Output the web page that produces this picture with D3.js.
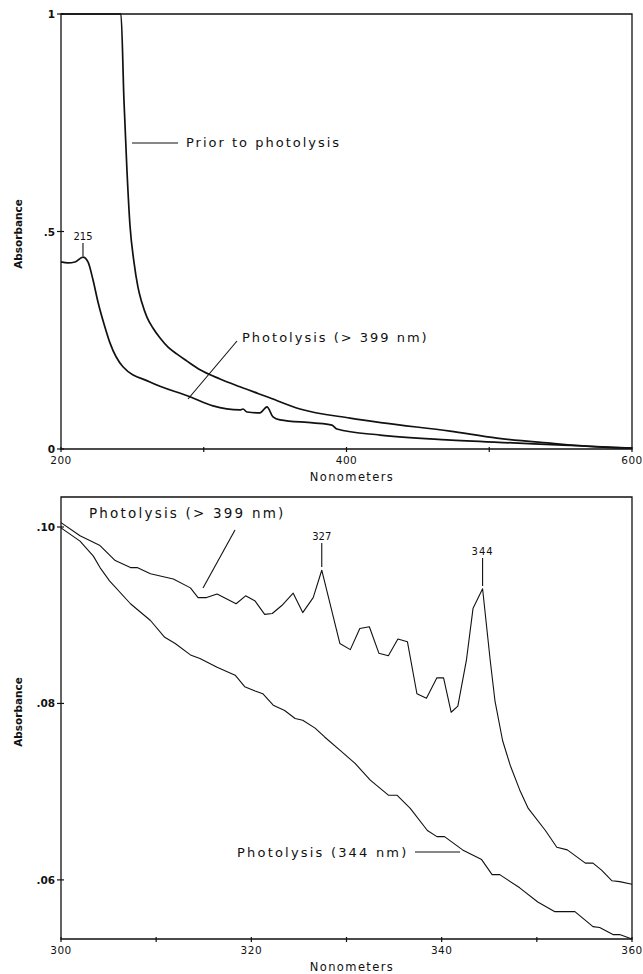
<!DOCTYPE html>
<html>
<head>
<meta charset="utf-8">
<script src="https://cdn.jsdelivr.net/npm/d3@7"></script>
<style>
  body { margin: 0; background: #fff; }
  text { font-family: "DejaVu Sans", sans-serif; fill: #111; }
</style>
</head>
<body>
<div id="chart"></div>
<script>
// TOP PANEL DATA (200-600 nm)
let priorTop = [
  [200, 1.0], [242.0, 1.0], [244.1, 0.802], [246.2, 0.641], [248.3, 0.515], [251.1, 0.430],
  [253.9, 0.372], [256.7, 0.336], [260.2, 0.303], [264.4, 0.278], [269.4, 0.255],
  [275.0, 0.234], [281.3, 0.218], [288.3, 0.202], [297.4, 0.182], [311.4, 0.161],
  [325.4, 0.143], [344.3, 0.120], [367.4, 0.092], [402.5, 0.071], [425.6, 0.060],
  [472.5, 0.041], [505.4, 0.025], [540.5, 0.014], [575.5, 0.005], [600, 0.002]
];
let photoTop = [
  [200, 0.430], [204.9, 0.428], [209.8, 0.430], [215.4, 0.441], [218.9, 0.430],
  [222.4, 0.389], [225.9, 0.338], [230.8, 0.280], [234.3, 0.244], [243.4, 0.189],
  [262.3, 0.154], [290.4, 0.120], [306.5, 0.099], [325.4, 0.090], [327.5, 0.092],
  [330.3, 0.085], [339.4, 0.083], [344.3, 0.097], [348.5, 0.074], [353.4, 0.067],
  [376.5, 0.060], [389.8, 0.055], [393.3, 0.046], [423.5, 0.032], [470.4, 0.021],
  [516.6, 0.014], [551.7, 0.009], [600, 0.002]
];
let topXTicks = [200, 300, 400, 500, 600];
let topXLabels = [200, 400, 600];
let topYTicks = [0, 0.5, 1];
let topYLabels = ["0", ".5", "1"];

// BOTTOM PANEL DATA (300-360 nm)
let photo399 = [
  [300.0, 0.1005], [302.0, 0.0990], [304.1, 0.0979], [305.7, 0.0962], [307.3, 0.0954],
  [308.0, 0.0954], [309.4, 0.0947], [311.8, 0.0941], [313.6, 0.0931], [314.4, 0.0920],
  [315.3, 0.0920], [316.4, 0.0924], [318.4, 0.0913], [319.4, 0.0922], [320.4, 0.0916],
  [321.4, 0.0901], [322.2, 0.0902], [323.2, 0.0911], [324.4, 0.0925], [325.4, 0.0903],
  [326.5, 0.0920], [327.4, 0.0951], [329.3, 0.0868], [330.4, 0.0861], [331.4, 0.0885],
  [332.4, 0.0887], [333.4, 0.0857], [334.4, 0.0854], [335.4, 0.0873], [336.4, 0.0870],
  [337.4, 0.0811], [338.4, 0.0806], [339.5, 0.0829], [340.2, 0.0829], [341.0, 0.0790],
  [341.7, 0.0797], [342.6, 0.0849], [343.3, 0.0908], [344.3, 0.0930], [345.1, 0.0849],
  [345.6, 0.0803], [346.4, 0.0758], [347.2, 0.0730], [348.2, 0.0702], [349.1, 0.0681],
  [350.9, 0.0656], [352.1, 0.0637], [353.2, 0.0634], [355.1, 0.0619], [355.9, 0.0619],
  [356.8, 0.0611], [357.9, 0.0599], [358.7, 0.0598], [360.0, 0.0595]
];
let photo344 = [
  [300.0, 0.0999], [302.0, 0.0984], [303.4, 0.0967], [304.1, 0.0954], [305.1, 0.0939],
  [307.3, 0.0913], [309.4, 0.0894], [310.9, 0.0875], [312.0, 0.0868], [313.6, 0.0855],
  [314.6, 0.0851], [316.4, 0.0841], [318.3, 0.0832], [319.3, 0.0819], [320.4, 0.0814],
  [321.2, 0.0811], [322.3, 0.0798], [323.5, 0.0792], [324.6, 0.0783], [325.4, 0.0781],
  [326.7, 0.0772], [327.7, 0.0762], [329.3, 0.0747], [330.9, 0.0732], [332.5, 0.0713],
  [334.4, 0.0696], [335.3, 0.0696], [336.7, 0.0681], [338.5, 0.0656], [339.5, 0.0649],
  [340.3, 0.0649], [342.2, 0.0634], [344.2, 0.0623], [345.3, 0.0606], [346.1, 0.0606],
  [348.2, 0.0591], [350.1, 0.0575], [351.9, 0.0564], [354.0, 0.0564], [355.9, 0.0547],
  [356.6, 0.0546], [358.0, 0.0538], [358.7, 0.0538], [360.0, 0.0533]
];
let botXTicks = [300, 310, 320, 330, 340, 350, 360];
let botXLabels = [300, 320, 340, 360];
let botYTicks = [0.06, 0.08, 0.10];
let botYLabels = [".06", ".08", ".10"];

let svg = d3.select("#chart")
  .append("svg")
  .attr("width", 643)
  .attr("height", 974);

function drawPanel(opt) {
  let x = d3.scaleLinear().domain(opt.xDomain).range([61, 632]);
  let y = d3.scaleLinear().domain(opt.yDomain).range([opt.bottom, opt.top]);
  let g = svg.append("g");

  // box: left + bottom axis, top + right frame
  g.append("path")
    .attr("d", `M61,${opt.top}H632V${opt.bottom}H61Z`)
    .attr("fill", "none")
    .attr("stroke", "#111")
    .attr("stroke-width", 1.3);

  // x ticks
  g.selectAll(".xt").data(opt.xTicks).enter().append("line")
    .attr("x1", d => x(d)).attr("x2", d => x(d))
    .attr("y1", opt.bottom - 2).attr("y2", opt.bottom + 3)
    .attr("stroke", "#111").attr("stroke-width", 1.2);
  g.selectAll(".xl").data(opt.xLabels).enter().append("text")
    .attr("x", d => x(d))
    .attr("y", opt.bottom + 15)
    .attr("text-anchor", "middle")
    .attr("font-size", "10.5px")
    .attr("letter-spacing", "0.5px")
    .text(d => d);

  // y ticks
  g.selectAll(".yt").data(opt.yTicks).enter().append("line")
    .attr("x1", 57).attr("x2", 64)
    .attr("y1", d => y(d)).attr("y2", d => y(d))
    .attr("stroke", "#111").attr("stroke-width", 1.2);
  g.selectAll(".yl").data(opt.yTicks).enter().append("text")
    .attr("x", 55)
    .attr("y", d => y(d) + 4)
    .attr("text-anchor", "end")
    .attr("font-size", "10.5px")
    .attr("font-weight", "bold")
    .text((d, i) => opt.yLabels[i]);

  // axis titles
  g.append("text")
    .attr("transform", `translate(22, ${opt.ylabelY}) rotate(-90)`)
    .attr("text-anchor", "middle")
    .attr("font-size", "10.5px")
    .attr("font-weight", "bold")
    .text("Absorbance");
  g.append("text")
    .attr("x", 352)
    .attr("y", opt.bottom + 32)
    .attr("text-anchor", "middle")
    .attr("font-size", "11.5px")
    .attr("letter-spacing", "1.4px")
    .text("Nonometers");

  let line = d3.line()
    .x(d => x(d[0]))
    .y(d => y(d[1]))
    .curve(opt.curve);
  opt.series.forEach(s => {
    g.append("path")
      .datum(s)
      .attr("d", line)
      .attr("fill", "none")
      .attr("stroke", "#111")
      .attr("stroke-width", opt.lineWidth)
      .attr("stroke-linejoin", "round");
  });
  return {x: x, y: y, g: g};
}

let topPanel = drawPanel({
  xDomain: [200, 600], yDomain: [0, 1], top: 14, bottom: 449,
  xTicks: topXTicks, xLabels: topXLabels, yTicks: topYTicks, yLabels: topYLabels,
  ylabelY: 234, series: [priorTop, photoTop], curve: d3.curveMonotoneX, lineWidth: 1.7
});

let botPanel = drawPanel({
  xDomain: [300, 360], yDomain: [0.0533, 0.1034], top: 497, bottom: 939,
  xTicks: botXTicks, xLabels: botXLabels, yTicks: botYTicks, yLabels: botYLabels,
  ylabelY: 712, series: [photo399, photo344], curve: d3.curveLinear, lineWidth: 1.1
});

// annotations
function label(g, x, y, txt, size, ls) {
  g.append("text")
    .attr("x", x).attr("y", y)
    .attr("font-size", size || "13px")
    .attr("letter-spacing", ls || "2px")
    .text(txt);
}
function seg(g, x1, y1, x2, y2) {
  g.append("line")
    .attr("x1", x1).attr("y1", y1).attr("x2", x2).attr("y2", y2)
    .attr("stroke", "#111").attr("stroke-width", 1.1);
}

// top panel
seg(topPanel.g, 132, 143, 178, 143);
label(topPanel.g, 186, 147, "Prior to photolysis");
seg(topPanel.g, 237, 341, 188, 399);
label(topPanel.g, 242, 342, "Photolysis (> 399 nm)");
seg(topPanel.g, topPanel.x(215.4), 243, topPanel.x(215.4), 256);
topPanel.g.append("text")
  .attr("x", topPanel.x(215.4)).attr("y", 240)
  .attr("text-anchor", "middle")
  .attr("font-size", "10px")
  .text("215");

// bottom panel
label(botPanel.g, 89, 518, "Photolysis (> 399 nm)", "13.5px", "2.2px");
seg(botPanel.g, 235, 530, 203, 588);
seg(botPanel.g, botPanel.x(327.4), 543, botPanel.x(327.4), 567);
botPanel.g.append("text")
  .attr("x", botPanel.x(327.4)).attr("y", 540)
  .attr("text-anchor", "middle")
  .attr("font-size", "10px")
  .text("327");
seg(botPanel.g, botPanel.x(344.3), 558, botPanel.x(344.3), 586);
botPanel.g.append("text")
  .attr("x", botPanel.x(344.3)).attr("y", 555)
  .attr("text-anchor", "middle")
  .attr("font-size", "10px")
  .attr("letter-spacing", "1px")
  .text("344");
label(botPanel.g, 237, 857, "Photolysis (344 nm)", "13px", "2.2px");
seg(botPanel.g, 415, 852, 460, 852);
</script>
</body>
</html>
